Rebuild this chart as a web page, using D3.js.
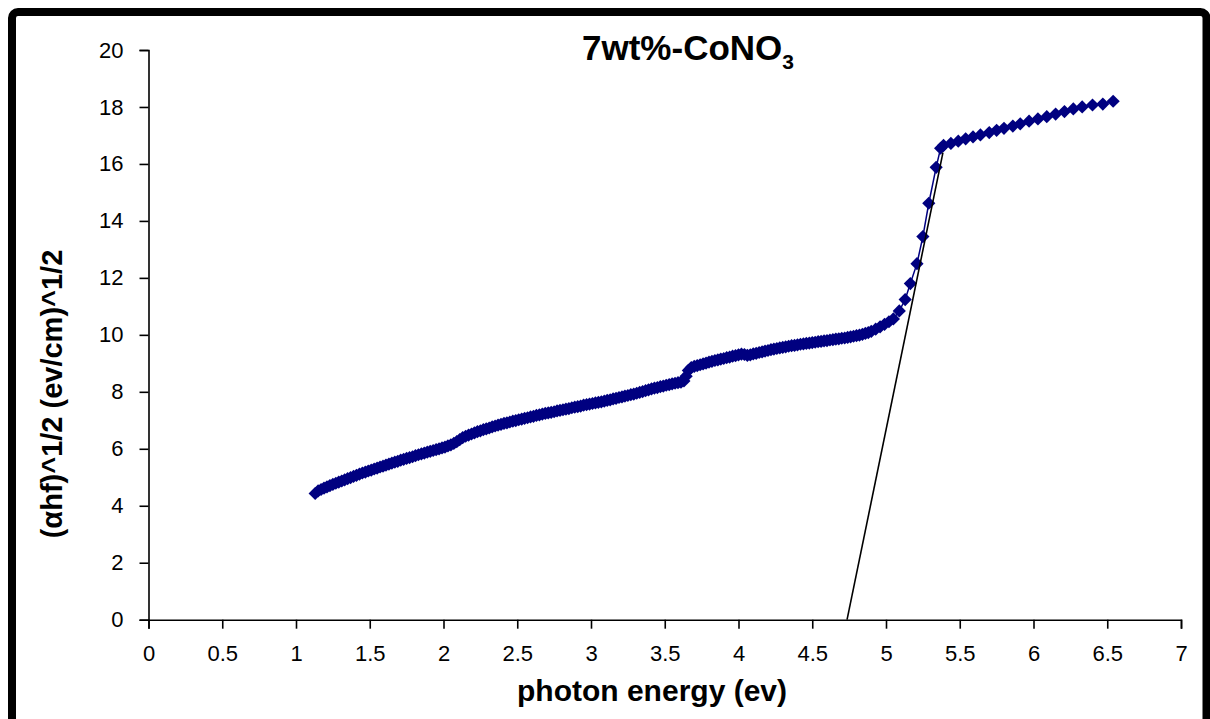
<head>
    <meta charset="utf-8">
    <style> body { margin: 0; background: #fff; } text { font-family: Arial, "Liberation Sans", sans-serif; } </style>
    <script src="https://d3js.org/d3.v7.min.js"></script>
</head>
<body>
<div id="chart"></div>
<script>

// photon energy (ev)
var energy = [1.13, 1.15, 1.17, 1.19, 1.21, 1.23, 1.25, 1.27, 1.29, 1.31,
    1.33, 1.35, 1.37, 1.39, 1.41, 1.43, 1.45, 1.47, 1.49, 1.51,
    1.53, 1.55, 1.57, 1.59, 1.61, 1.63, 1.65, 1.67, 1.69, 1.71,
    1.73, 1.75, 1.77, 1.79, 1.81, 1.83, 1.85, 1.87, 1.89, 1.91,
    1.93, 1.95, 1.97, 1.99, 2.01, 2.03, 2.05, 2.07, 2.09, 2.11,
    2.13, 2.15, 2.17, 2.19, 2.21, 2.23, 2.25, 2.27, 2.29, 2.31,
    2.33, 2.35, 2.37, 2.39, 2.41, 2.43, 2.45, 2.47, 2.49, 2.51,
    2.53, 2.55, 2.57, 2.59, 2.61, 2.63, 2.65, 2.67, 2.69, 2.71,
    2.73, 2.75, 2.77, 2.79, 2.81, 2.83, 2.85, 2.87, 2.89, 2.91,
    2.93, 2.95, 2.97, 2.99, 3.01, 3.03, 3.05, 3.07, 3.09, 3.11,
    3.13, 3.15, 3.17, 3.19, 3.21, 3.23, 3.25, 3.27, 3.29, 3.31,
    3.33, 3.35, 3.37, 3.39, 3.41, 3.43, 3.45, 3.47, 3.49, 3.51,
    3.53, 3.55, 3.57, 3.59, 3.61, 3.63, 3.645, 3.66, 3.68, 3.70,
    3.72, 3.74, 3.76, 3.78, 3.80, 3.82, 3.84, 3.86, 3.88, 3.90,
    3.92, 3.94, 3.96, 3.98, 4.00, 4.02, 4.04, 4.06, 4.08, 4.10,
    4.12, 4.14, 4.16, 4.18, 4.20, 4.22, 4.24, 4.26, 4.28, 4.30,
    4.32, 4.34, 4.36, 4.38, 4.40, 4.42, 4.44, 4.46, 4.48, 4.50,
    4.52, 4.54, 4.56, 4.58, 4.60, 4.62, 4.64, 4.66, 4.68, 4.70,
    4.72, 4.74, 4.76, 4.78, 4.80, 4.82, 4.84, 4.86, 4.88, 4.90,
    4.93, 4.96, 4.99, 5.02, 5.05, 5.09, 5.13, 5.165, 5.21, 5.25,
    5.29, 5.34, 5.37, 5.39, 5.44, 5.49, 5.54, 5.59, 5.64, 5.70,
    5.75, 5.80, 5.86, 5.91, 5.97, 6.03, 6.09, 6.15, 6.21, 6.27,
    6.33, 6.40, 6.47, 6.54];

// (ahf)^1/2 values
var absorb = [4.43, 4.52, 4.57, 4.62, 4.66, 4.71, 4.75, 4.79, 4.83, 4.87,
    4.91, 4.95, 4.99, 5.03, 5.07, 5.11, 5.15, 5.18, 5.22, 5.25,
    5.29, 5.32, 5.36, 5.39, 5.43, 5.46, 5.50, 5.53, 5.56, 5.60,
    5.63, 5.66, 5.69, 5.72, 5.76, 5.79, 5.82, 5.85, 5.88, 5.91,
    5.94, 5.97, 6.00, 6.03, 6.06, 6.10, 6.14, 6.19, 6.25, 6.32,
    6.39, 6.44, 6.48, 6.52, 6.56, 6.60, 6.63, 6.67, 6.70, 6.73,
    6.77, 6.80, 6.83, 6.86, 6.89, 6.91, 6.94, 6.97, 6.99, 7.02,
    7.04, 7.07, 7.09, 7.12, 7.14, 7.17, 7.19, 7.22, 7.24, 7.26,
    7.28, 7.30, 7.33, 7.35, 7.37, 7.39, 7.41, 7.44, 7.46, 7.48,
    7.50, 7.53, 7.55, 7.57, 7.59, 7.61, 7.63, 7.65, 7.67, 7.70,
    7.72, 7.75, 7.77, 7.80, 7.82, 7.85, 7.87, 7.90, 7.92, 7.95,
    7.98, 8.01, 8.04, 8.07, 8.10, 8.13, 8.15, 8.18, 8.20, 8.23,
    8.25, 8.28, 8.30, 8.32, 8.34, 8.38, 8.55, 8.75, 8.85, 8.89,
    8.92, 8.95, 8.98, 9.01, 9.04, 9.07, 9.10, 9.12, 9.15, 9.17,
    9.20, 9.22, 9.25, 9.27, 9.30, 9.32, 9.31, 9.28, 9.30, 9.33,
    9.35, 9.38, 9.40, 9.43, 9.45, 9.48, 9.50, 9.52, 9.54, 9.56,
    9.58, 9.60, 9.62, 9.63, 9.65, 9.67, 9.68, 9.70, 9.71, 9.73,
    9.74, 9.76, 9.77, 9.79, 9.80, 9.82, 9.83, 9.85, 9.86, 9.88,
    9.89, 9.91, 9.93, 9.95, 9.97, 9.99, 10.02, 10.05, 10.08, 10.12,
    10.20, 10.28, 10.37, 10.46, 10.56, 10.84, 11.24, 11.80, 12.50, 13.45,
    14.62, 15.88, 16.55, 16.65, 16.72, 16.80, 16.88, 16.95, 17.02, 17.10,
    17.18, 17.25, 17.33, 17.41, 17.50, 17.58, 17.66, 17.75, 17.84, 17.93,
    18.00, 18.07, 18.10, 18.20];

// straight line drawn through the steep edge
var fitX = [4.736, 5.386];
var fitY = [0, 16.4];

var xTicks = [0, 0.5, 1, 1.5, 2, 2.5, 3, 3.5, 4, 4.5, 5, 5.5, 6, 6.5, 7];
var yTicks = [0, 2, 4, 6, 8, 10, 12, 14, 16, 18, 20];

var W = 1210, H = 719;
var margin = {top: 50, left: 148.5, right: 29, bottom: 99.3};
var width = W - margin.left - margin.right,
    height = H - margin.top - margin.bottom;

var svg = d3.select("#chart").append("svg")
    .attr("width", W)
    .attr("height", H);

// outer frame
svg.append("rect")
    .attr("x", 12).attr("y", 12)
    .attr("width", 1194.5).attr("height", 740)
    .attr("rx", 6)
    .attr("fill", "none")
    .attr("stroke", "#000")
    .attr("stroke-width", 8);

var focus = svg.append("g")
    .attr("transform", "translate(" + margin.left + "," + margin.top + ")");

var x = d3.scaleLinear().domain([0, 7]).range([0, width]);
var y = d3.scaleLinear().domain([0, 20]).range([height, 0]);

var xx = focus.append("g")
    .attr("class", "ax")
    .attr("transform", "translate(0," + height + ")")
    .call(d3.axisBottom(x).tickValues(xTicks).tickSize(9).tickPadding(17).tickFormat(d3.format("")));

var yx = focus.append("g")
    .attr("class", "ax")
    .call(d3.axisLeft(y).tickValues(yTicks).tickSize(9).tickPadding(16).tickFormat(d3.format("")));

focus.selectAll(".ax").selectAll("text")
    .attr("font-size", 22)
    .attr("fill", "#000");
focus.selectAll(".ax path").attr("stroke", "#000").attr("stroke-width", 1.6);
focus.selectAll(".ax line").attr("stroke", "#000").attr("stroke-width", 1.6);
xx.selectAll("text").attr("dy", "0.71em");

var data = energy.map(function(e, i) { return {e: e, v: absorb[i]}; });

// thin connector between markers
focus.append("path")
    .datum(data)
    .attr("fill", "none")
    .attr("stroke", "#000080")
    .attr("stroke-width", 1.5)
    .attr("d", d3.line().x(d => x(d.e)).y(d => y(d.v)));

focus.append("g").selectAll("path")
    .data(data)
    .join("path")
    .attr("transform", d => "translate(" + x(d.e) + "," + y(d.v) + ")")
    .attr("d", "M0,-6.6L6.6,0L0,6.6L-6.6,0Z")
    .attr("fill", "#000080");

// tangent line
focus.append("path")
    .datum(fitX.map(function(e, i) { return {e: e, v: fitY[i]}; }))
    .attr("fill", "none")
    .attr("stroke", "#000")
    .attr("stroke-width", 1.6)
    .attr("d", d3.line().x(d => x(d.e)).y(d => y(d.v)));

// titles
var title = svg.append("text")
    .attr("x", 688).attr("y", 60)
    .attr("text-anchor", "middle")
    .attr("font-size", 35)
    .attr("font-weight", "bold")
    .attr("fill", "#000");
title.append("tspan").text("7wt%-CoNO");
title.append("tspan").attr("font-size", 21).attr("dy", 9).text("3");

svg.append("text")
    .attr("x", 652).attr("y", 701)
    .attr("text-anchor", "middle")
    .attr("font-size", 30)
    .attr("font-weight", "bold")
    .attr("fill", "#000")
    .text("photon energy (ev)");

svg.append("text")
    .attr("transform", "translate(62,394) rotate(-90)")
    .attr("text-anchor", "middle")
    .attr("font-size", 29)
    .attr("font-weight", "bold")
    .attr("fill", "#000")
    .text("(αhf)^1/2 (ev/cm)^1/2");

</script>
</body>
